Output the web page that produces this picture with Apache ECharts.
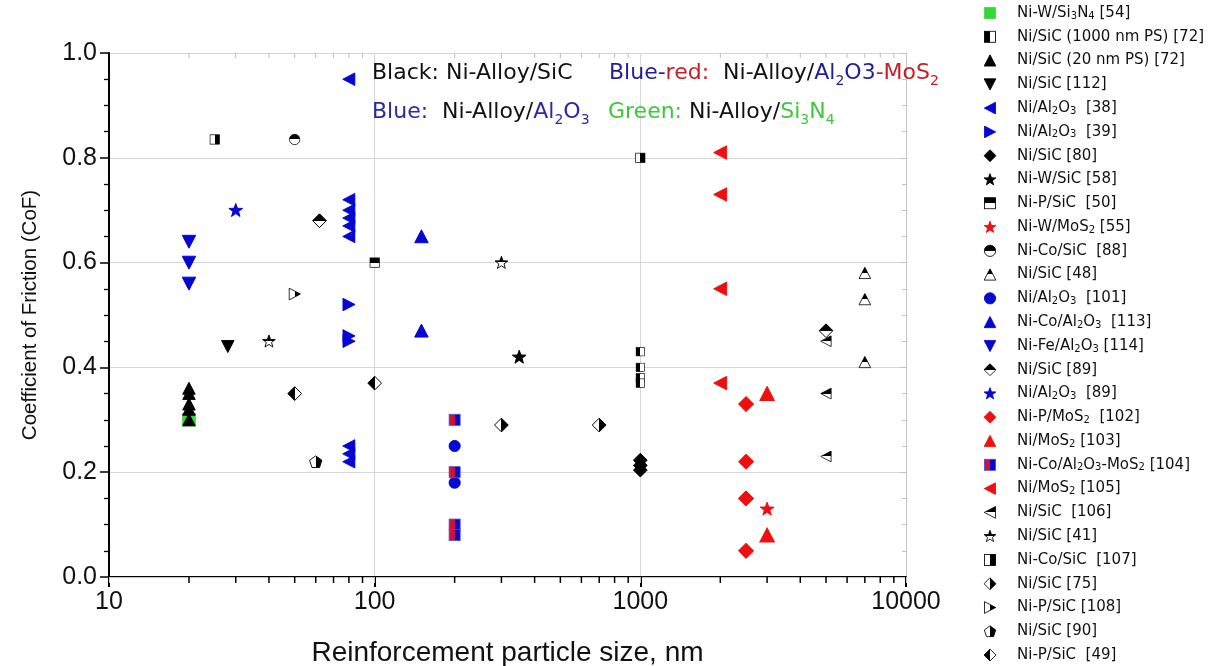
<!DOCTYPE html>
<html>
<head>
<meta charset="utf-8">
<title>CoF vs reinforcement particle size</title>
<script src="https://cdn.jsdelivr.net/npm/echarts@6/dist/echarts.min.js"></script>
</head>
<body style="margin:0;background:#fff;">
<div id="chart" style="width:1228px;height:666px;"></div>
<script>
// ---- data: [particle size (nm), coefficient of friction] ----
var niW_Si3N4_54   = [[20, 0.30]];
var niSiC_1000_72  = [[1000, 0.43], [1000, 0.40], [1000, 0.38], [1000, 0.37]];
var niSiC_20_72    = [[20, 0.36], [20, 0.35], [20, 0.33], [20, 0.32], [20, 0.30]];
var niSiC_112      = [[28, 0.44]];
var niAl2O3_38     = [[80, 0.95], [80, 0.72], [80, 0.70], [80, 0.685], [80, 0.67], [80, 0.65], [80, 0.25], [80, 0.235], [80, 0.22]];
var niAl2O3_39     = [[80, 0.52], [80, 0.46], [80, 0.45]];
var niSiC_80       = [[1000, 0.223], [1000, 0.213], [1000, 0.204]];
var niWSiC_58      = [[350, 0.42]];
var niPSiC_50      = [[100, 0.60]];
var niWMoS2_55     = [[3000, 0.13]];
var niCoSiC_88     = [[50, 0.835]];
var niSiC_48       = [[7000, 0.58], [7000, 0.53], [7000, 0.41]];
var niAl2O3_101    = [[200, 0.25], [200, 0.18]];
var niCoAl2O3_113  = [[150, 0.65], [150, 0.47]];
var niFeAl2O3_114  = [[20, 0.64], [20, 0.60], [20, 0.56]];
var niSiC_89       = [[62, 0.68], [5000, 0.47]];
var niAl2O3_89     = [[30, 0.70]];
var niPMoS2_102    = [[2500, 0.33], [2500, 0.22], [2500, 0.15], [2500, 0.05]];
var niMoS2_103     = [[3000, 0.35], [3000, 0.08]];
var niCoAlMoS2_104 = [[200, 0.30], [200, 0.20], [200, 0.10], [200, 0.08]];
var niMoS2_105     = [[2000, 0.81], [2000, 0.73], [2000, 0.55], [2000, 0.37]];
var niSiC_106      = [[5000, 0.45], [5000, 0.35], [5000, 0.23]];
var niSiC_41       = [[40, 0.45], [300, 0.60]];
var niCoSiC_107    = [[25, 0.835], [1000, 0.80]];
var niSiC_75       = [[300, 0.29], [700, 0.29]];
var niPSiC_108     = [[50, 0.54]];
var niSiC_90       = [[60, 0.22]];
var niPSiC_49      = [[50, 0.35], [100, 0.37]];

// legend labels ({s|..} = subscript)
var labels = [
  'Ni-W/Si{s|3}N{s|4} [54]', 'Ni/SiC (1000 nm PS) [72]', 'Ni/SiC (20 nm PS) [72]', 'Ni/SiC [112]',
  'Ni/Al{s|2}O{s|3}  [38]', 'Ni/Al{s|2}O{s|3}  [39]', 'Ni/SiC [80]', 'Ni-W/SiC [58]',
  'Ni-P/SiC  [50]', 'Ni-W/MoS{s|2} [55]', 'Ni-Co/SiC  [88]', 'Ni/SiC [48]',
  'Ni/Al{s|2}O{s|3}  [101]', 'Ni-Co/Al{s|2}O{s|3}  [113]', 'Ni-Fe/Al{s|2}O{s|3} [114]', 'Ni/SiC [89]',
  'Ni/Al{s|2}O{s|3}  [89]', 'Ni-P/MoS{s|2}  [102]', 'Ni/MoS{s|2} [103]', 'Ni-Co/Al{s|2}O{s|3}-MoS{s|2} [104]',
  'Ni/MoS{s|2} [105]', 'Ni/SiC  [106]', 'Ni/SiC [41]', 'Ni-Co/SiC  [107]',
  'Ni/SiC [75]', 'Ni-P/SiC [108]', 'Ni/SiC [90]', 'Ni-P/SiC  [49]'
];
var seriesData = [
  niW_Si3N4_54, niSiC_1000_72, niSiC_20_72, niSiC_112, niAl2O3_38, niAl2O3_39, niSiC_80, niWSiC_58,
  niPSiC_50, niWMoS2_55, niCoSiC_88, niSiC_48, niAl2O3_101, niCoAl2O3_113, niFeAl2O3_114, niSiC_89,
  niAl2O3_89, niPMoS2_102, niMoS2_103, niCoAlMoS2_104, niMoS2_105, niSiC_106, niSiC_41, niCoSiC_107,
  niSiC_75, niPSiC_108, niSiC_90, niPSiC_49
];
var yTicks = [0, 0.2, 0.4, 0.6, 0.8, 1.0];
var logMinorTicks = [20, 30, 40, 50, 60, 70, 80, 90, 200, 300, 400, 500, 600, 700, 800, 900,
                     2000, 3000, 4000, 5000, 6000, 7000, 8000, 9000];

// ---- marker styles ----
var BLUE = '#0606d2', RED = '#ee1010', K = '#000', W = '#fff';
var markers = [
  {shape: 'square', fill: '#2fdc2f', stroke: '#5ccc5c', size: 15},
  {shape: 'square', half: 'lr', a: K, b: W, size: 10},
  {shape: 'up', fill: K, size: 14},
  {shape: 'down', fill: K, size: 14},
  {shape: 'left', fill: BLUE, size: 14},
  {shape: 'right', fill: BLUE, size: 14},
  {shape: 'diamond', fill: K, size: 15},
  {shape: 'star', fill: K, size: 15},
  {shape: 'square', half: 'tb', a: K, b: W, size: 11},
  {shape: 'star', fill: RED, size: 15},
  {shape: 'circle', half: 'tb', a: K, b: W, size: 12},
  {shape: 'up', half: 'tb', a: K, b: W, size: 13},
  {shape: 'circle', fill: BLUE, size: 13},
  {shape: 'up', fill: BLUE, size: 15},
  {shape: 'down', fill: BLUE, size: 15},
  {shape: 'diamond', half: 'tb', a: K, b: W, size: 15},
  {shape: 'star', fill: BLUE, size: 15},
  {shape: 'diamond', fill: RED, size: 16},
  {shape: 'up', fill: RED, size: 16},
  {shape: 'square', half: 'lr', a: '#d0103a', b: BLUE, stroke: '#5050c8', size: 13},
  {shape: 'left', fill: RED, size: 15},
  {shape: 'left', half: 'tb', a: K, b: W, size: 12},
  {shape: 'star', half: 'tb', a: K, b: W, size: 14},
  {shape: 'square', half: 'lr', a: W, b: K, size: 11},
  {shape: 'diamond', half: 'lr', a: W, b: K, size: 15},
  {shape: 'right', half: 'lr', a: W, b: K, size: 13},
  {shape: 'pentagon', half: 'lr', a: W, b: K, size: 14},
  {shape: 'diamond', half: 'lr', a: K, b: W, size: 15}
];

function polyPts(n, cx, cy, R, r) {
  var pts = [];
  var steps = r ? n * 2 : n;
  for (var i = 0; i < steps; i++) {
    var ang = (-90 + i * 360 / steps) * Math.PI / 180;
    var rad = (r && i % 2) ? r : R;
    pts.push((cx + rad * Math.cos(ang)).toFixed(2) + ',' + (cy + rad * Math.sin(ang)).toFixed(2));
  }
  return pts.join(' ');
}
function shapeEl(shape) {
  switch (shape) {
    case 'square': return '<rect x="1.5" y="1.5" width="17" height="17"/>';
    case 'circle': return '<circle cx="10" cy="10" r="8.7"/>';
    case 'up': return '<polygon points="10,1.2 19,18.5 1,18.5"/>';
    case 'down': return '<polygon points="1,1.5 19,1.5 10,18.8"/>';
    case 'left': return '<polygon points="1.2,10 18.5,1 18.5,19"/>';
    case 'right': return '<polygon points="18.8,10 1.5,1 1.5,19"/>';
    case 'diamond': return '<polygon points="10,0.8 19.2,10 10,19.2 0.8,10"/>';
    case 'star': return '<polygon points="' + polyPts(5, 10, 10.6, 9.6, 3.9) + '"/>';
    case 'pentagon': return '<polygon points="' + polyPts(5, 10, 10.8, 9.2) + '"/>';
  }
}
function marker(m) {
  var defs = '', fill, stroke;
  if (m.half) {
    var dir = m.half === 'tb' ? 'x1="0" y1="0" x2="0" y2="1"' : 'x1="0" y1="0" x2="1" y2="0"';
    defs = '<defs><linearGradient id="g" ' + dir + '>' +
      '<stop offset="0.5" stop-color="' + m.a + '"/><stop offset="0.5" stop-color="' + m.b + '"/>' +
      '</linearGradient></defs>';
    fill = 'url(#g)';
    stroke = m.stroke || '#000';
  } else {
    fill = m.fill;
    stroke = m.stroke || m.fill;
  }
  var svg = '<svg xmlns="http://www.w3.org/2000/svg" width="20" height="20" viewBox="0 0 20 20">' + defs +
    '<g fill="' + fill + '" stroke="' + stroke + '" stroke-width="1.3" stroke-linejoin="miter">' +
    shapeEl(m.shape) + '</g></svg>';
  return 'image://data:image/svg+xml;charset=utf-8,' + encodeURIComponent(svg);
}

var FONT = 'Liberation Sans, Arial, sans-serif';
var WIDE = 'DejaVu Sans, sans-serif';

var series = seriesData.map(function (d, i) {
  return {
    type: 'scatter',
    name: labels[i],
    data: d,
    symbol: marker(markers[i]),
    symbolSize: markers[i].size,
    symbolKeepAspect: true,
    itemStyle: {opacity: 1},
    z: 3
  };
});

// minor ticks of the log axis at 2..9 of each decade (top and bottom frame)
series.push({
  type: 'custom',
  name: 'minorTicks',
  silent: true,
  clip: false,
  z: 1,
  data: logMinorTicks.map(function (v) { return [v, 0]; }),
  renderItem: function (params, api) {
    var x = api.coord([api.value(0), 0])[0];
    var cs = params.coordSys;
    return {
      type: 'group',
      children: [
        {type: 'line', shape: {x1: x, y1: cs.y + cs.height, x2: x, y2: cs.y + cs.height + 6},
          style: {stroke: '#000', lineWidth: 1.5}},
        {type: 'line', shape: {x1: x, y1: cs.y, x2: x, y2: cs.y + 5},
          style: {stroke: '#bdbdbd', lineWidth: 1}}
      ]
    };
  }
});

var T = {fontFamily: WIDE, fontSize: 22, lineHeight: 30};
function tok(color) { return {fontFamily: T.fontFamily, fontSize: T.fontSize, lineHeight: T.lineHeight, fill: color}; }
function sub(color) { return {fontFamily: WIDE, fontSize: 14, lineHeight: 13, verticalAlign: 'bottom', fill: color}; }

var chart = echarts.init(document.getElementById('chart'), null, {renderer: 'canvas'});
chart.setOption({
  backgroundColor: '#fff',
  animation: false,
  grid: {left: 109, right: 322, top: 53, bottom: 89, outerBoundsMode: 'none', containLabel: false},
  xAxis: [{
    type: 'log', logBase: 10, min: 10, max: 10000,
    name: 'Reinforcement particle size, nm', nameLocation: 'middle', nameGap: 62,
    nameTextStyle: {fontFamily: FONT, fontSize: 28, color: '#111'},
    axisLine: {lineStyle: {color: '#000', width: 2}},
    axisTick: {length: 10, lineStyle: {color: '#000', width: 2}},
    axisLabel: {fontFamily: FONT, fontSize: 25, color: '#111', margin: 13,
      formatter: function (v) { return String(Math.round(v)); }},
    splitLine: {show: true, lineStyle: {color: '#d6d6d6', width: 1}}
  }, {
    type: 'log', logBase: 10, min: 10, max: 10000, position: 'top',
    axisLine: {lineStyle: {color: '#c4c4c4', width: 1}},
    axisTick: {inside: true, length: 6, lineStyle: {color: '#c4c4c4'}},
    axisLabel: {show: false},
    splitLine: {show: false}
  }],
  yAxis: [{
    type: 'value', min: yTicks[0], max: yTicks[yTicks.length - 1], interval: 0.2,
    name: 'Coefficient of Friction (CoF)', nameLocation: 'middle', nameGap: 68,
    nameTextStyle: {fontFamily: FONT, fontSize: 20.5, color: '#111'},
    axisLine: {show: true, lineStyle: {color: '#000', width: 2}},
    axisTick: {show: true, length: 9, lineStyle: {color: '#000', width: 1.5}},
    minorTick: {show: true, splitNumber: 4, length: 5, lineStyle: {color: '#000', width: 1.3}},
    axisLabel: {fontFamily: FONT, fontSize: 25, color: '#111', margin: 12,
      formatter: function (v) { return v.toFixed(1); }},
    splitLine: {show: true, lineStyle: {color: '#d6d6d6', width: 1}}
  }, {
    type: 'value', min: 0, max: 1, interval: 0.2, position: 'right',
    axisLine: {show: true, lineStyle: {color: '#c4c4c4', width: 1}},
    axisTick: {show: true, inside: true, length: 6, lineStyle: {color: '#c4c4c4'}},
    minorTick: {show: true, splitNumber: 4, length: 4, lineStyle: {color: '#c4c4c4'}},
    axisLabel: {show: false},
    splitLine: {show: false}
  }],
  legend: {
    orient: 'vertical',
    left: 968, top: 5, height: 661,
    padding: 0,
    itemWidth: 44, itemHeight: 13, itemGap: 7.78,
    selectedMode: false,
    data: labels,
    formatter: function (n) { return n; },
    textStyle: {
      fontFamily: WIDE, fontSize: 15, color: '#111', lineHeight: 16,
      rich: {s: {fontFamily: WIDE, fontSize: 10, lineHeight: 9, verticalAlign: 'bottom', color: '#111'}}
    }
  },
  graphic: [
    {type: 'text', x: 372, y: 73, z: 10, style: {
      text: '{k|Black: Ni-Alloy/SiC}', verticalAlign: 'middle',
      rich: {k: tok('#111')}}},
    {type: 'text', x: 609, y: 73, z: 10, style: {
      text: '{b|Blue-}{r|red:}{k|  Ni-Alloy/}{b|Al}{bs|2}{b|O3}{r|-MoS}{rs|2}', verticalAlign: 'middle',
      rich: {k: tok('#111'), b: tok('#1f1f9a'), r: tok('#c81e28'), bs: sub('#1f1f9a'), rs: sub('#c81e28')}}},
    {type: 'text', x: 372, y: 112, z: 10, style: {
      text: '{b|Blue:}{k|  Ni-Alloy/}{b|Al}{bs|2}{b|O}{bs|3}', verticalAlign: 'middle',
      rich: {k: tok('#111'), b: tok('#2a2aa8'), bs: sub('#2a2aa8')}}},
    {type: 'text', x: 608, y: 112, z: 10, style: {
      text: '{g|Green:}{k| Ni-Alloy/}{g|Si}{gs|3}{g|N}{gs|4}', verticalAlign: 'middle',
      rich: {k: tok('#111'), g: tok('#3dc83d'), gs: sub('#3dc83d')}}}
  ],
  series: series
});
</script>
</body>
</html>
